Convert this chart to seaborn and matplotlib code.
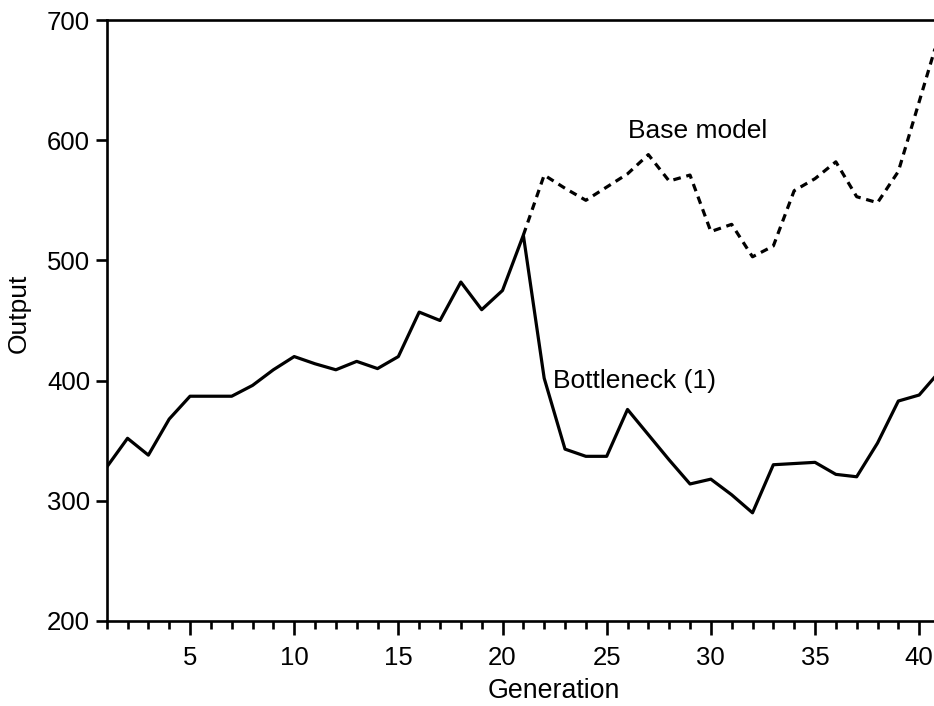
import numpy as np
import pandas as pd
import matplotlib
matplotlib.use("Agg")
import matplotlib.pyplot as plt
from matplotlib.ticker import MultipleLocator, FixedLocator
import seaborn as sns

# ---- data ----
generation = list(range(1, 42))
bottleneck = [328, 352, 338, 368, 387, 387, 387, 396, 409, 420,
              414, 409, 416, 410, 420, 457, 450, 482, 459, 475,
              521, 402, 343, 337, 337, 376, 355, 334, 314, 318,
              305, 290, 330, 331, 332, 322, 320, 348, 383, 388,
              408]
base_generation = list(range(21, 42))
base_model = [521, 571, 560, 550, 561, 572, 588, 566, 571, 524,
              530, 503, 512, 558, 568, 582, 553, 548, 574, 632,
              690]
y_ticks = [200, 300, 400, 500, 600, 700]
x_major = [5, 10, 15, 20, 25, 30, 35, 40]

df_b = pd.DataFrame({"Generation": generation, "Output": bottleneck})
df_m = pd.DataFrame({"Generation": base_generation, "Output": base_model})

sns.set_style("ticks")
plt.rcParams["font.family"] = ["Liberation Sans", "DejaVu Sans"]
plt.rcParams["text.color"] = "black"
plt.rcParams["axes.labelcolor"] = "black"
plt.rcParams["xtick.color"] = "black"
plt.rcParams["ytick.color"] = "black"

fig = plt.figure(figsize=(9.34, 7.06), dpi=100)
ax = fig.add_axes([106.7 / 934, 85 / 706, (940 - 106.7) / 934, 601 / 706])

sns.lineplot(data=df_m, x="Generation", y="Output", ax=ax, color="black",
             linewidth=2.3, linestyle=(0, (2.4, 1.8)))
sns.lineplot(data=df_b, x="Generation", y="Output", ax=ax, color="black",
             linewidth=2.3)

ax.set_xlim(1, 41)
ax.set_ylim(200, 700)
ax.yaxis.set_major_locator(FixedLocator(y_ticks))
ax.xaxis.set_major_locator(FixedLocator(x_major))
ax.xaxis.set_minor_locator(MultipleLocator(1))

for s in ["left", "bottom", "top", "right"]:
    ax.spines[s].set_visible(True)
    ax.spines[s].set_linewidth(1.9)
    ax.spines[s].set_color("black")

ax.tick_params(axis="y", which="major", direction="out", length=8, width=1.9,
               labelsize=18.5, pad=4, colors="black")
ax.tick_params(axis="x", which="major", direction="out", length=10, width=1.9,
               labelsize=18.5, pad=8, colors="black")
ax.tick_params(axis="x", which="minor", direction="out", length=6, width=1.9,
               colors="black")

ax.set_xlabel("Generation", fontsize=19.3, color="black")
ax.set_ylabel("Output", fontsize=19, color="black")
ax.xaxis.label.set_va("center")
ax.yaxis.label.set_va("center")
ax.xaxis.set_label_coords((554 - 106.7) / (940 - 106.7), (621 - 691) / 601)
ax.yaxis.set_label_coords((19 - 106.7) / (940 - 106.7), (621 - 313) / 601)

ax.text(26.0, 602, "Base model", fontsize=19, ha="left", va="baseline", color="black")
ax.text(22.41, 393.6, "Bottleneck (1)", fontsize=19, ha="left", va="baseline", color="black")

fig.savefig("out.png", dpi=100, facecolor="white")
